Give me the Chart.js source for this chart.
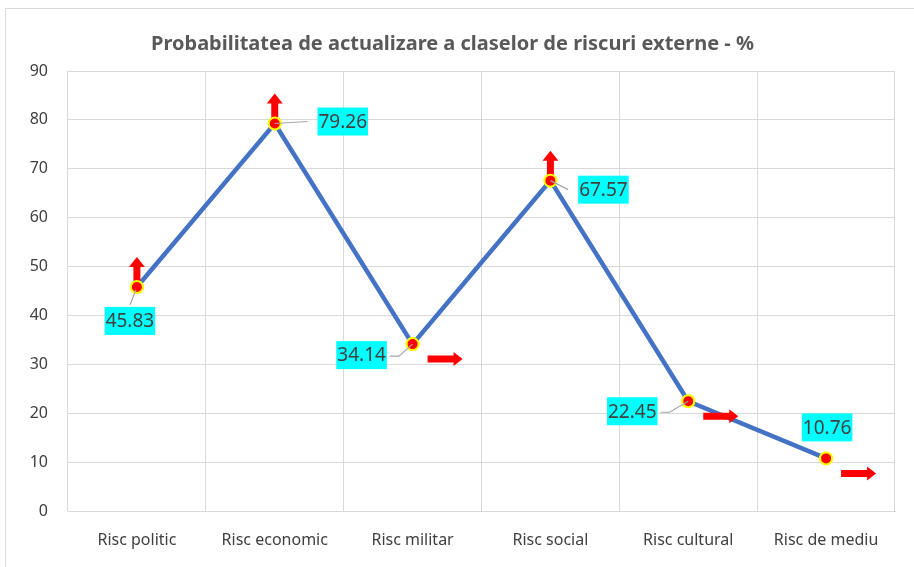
<!DOCTYPE html>
<html>
<head>
<meta charset="utf-8">
<script src="https://cdn.jsdelivr.net/npm/chart.js@4"></script>
<style>
  html, body { margin: 0; padding: 0; background: #fff; }
  #wrap { width: 914px; height: 567px; }
</style>
</head>
<body>
<div id="wrap"><canvas id="riskChart" width="914" height="567"></canvas></div>
<script>
// categories and values
const categories = ['Risc politic', 'Risc economic', 'Risc militar', 'Risc social', 'Risc cultural', 'Risc de mediu'];
const probability = [45.83, 79.26, 34.14, 67.57, 22.45, 10.76];
// arrow direction per point (up = rising, right = stable)
const trend = ['up', 'up', 'right', 'up', 'right', 'right'];
const yTicks = [0, 10, 20, 30, 40, 50, 60, 70, 80, 90];

// where each label box sits relative to its point (styling only)
const labelOffsets = [
  { dx: -7, dy: 34, leader: 'top' },
  { dx: 68, dy: -2, leader: 'left' },
  { dx: -51, dy: 11, leader: 'right' },
  { dx: 53, dy: 9, leader: 'left' },
  { dx: -56, dy: 10, leader: 'right' },
  { dx: 1, dy: -31, leader: 'none' }
];

const fontFam = '"Noto Sans", "Liberation Sans", sans-serif';

// draws a filled red arrow, up or right
function drawArrow(ctx, x, y, dir) {
  ctx.save();
  ctx.fillStyle = '#ff0000';
  ctx.beginPath();
  if (dir === 'up') {
    var base = y - 4, tip = y - 30, headH = 10, shaft = 3.5, head = 8;
    ctx.moveTo(x - shaft, base);
    ctx.lineTo(x - shaft, tip + headH);
    ctx.lineTo(x - head, tip + headH);
    ctx.lineTo(x, tip);
    ctx.lineTo(x + head, tip + headH);
    ctx.lineTo(x + shaft, tip + headH);
    ctx.lineTo(x + shaft, base);
  } else {
    var x0 = x + 15, x1 = x + 50, yy = y + 15, headL = 9, shaftR = 3.5, headR = 7;
    ctx.moveTo(x0, yy - shaftR);
    ctx.lineTo(x1 - headL, yy - shaftR);
    ctx.lineTo(x1 - headL, yy - headR);
    ctx.lineTo(x1, yy);
    ctx.lineTo(x1 - headL, yy + headR);
    ctx.lineTo(x1 - headL, yy + shaftR);
    ctx.lineTo(x0, yy + shaftR);
  }
  ctx.closePath();
  ctx.fill();
  ctx.restore();
}

const decorPlugin = {
  id: 'decor',
  beforeDraw(chart) {
    // outer chart frame
    var ctx = chart.ctx;
    ctx.save();
    ctx.strokeStyle = '#d9d9d9';
    ctx.lineWidth = 1;
    ctx.strokeRect(5.5, 8.5, 930, 600);
    ctx.restore();
  },
  afterDatasetsDraw(chart) {
    var ctx = chart.ctx;
    var meta = chart.getDatasetMeta(0);
    meta.data.forEach(function (pt, i) {
      drawArrow(ctx, pt.x, pt.y, trend[i]);
    });
    // points back on top of the arrows
    meta.data.forEach(function (pt) { pt.draw(ctx); });

    ctx.save();
    ctx.font = '19px ' + fontFam;
    ctx.textAlign = 'center';
    ctx.textBaseline = 'middle';
    meta.data.forEach(function (pt, i) {
      var txt = probability[i].toFixed(2);
      var off = labelOffsets[i];
      var cx = pt.x + off.dx, cy = pt.y + off.dy;
      var w = ctx.measureText(txt).width + 2, h = 28;
      var left = cx - w / 2, top = cy - h / 2;

      // leader line
      ctx.strokeStyle = '#a6a6a6';
      ctx.lineWidth = 1.2;
      ctx.beginPath();
      if (off.leader === 'top') {
        ctx.moveTo(pt.x - 1, pt.y + 3);
        ctx.lineTo(cx, top - 2);
      } else if (off.leader === 'left') {
        ctx.moveTo(pt.x, pt.y);
        ctx.lineTo(left - 10, cy);
      } else if (off.leader === 'right') {
        ctx.moveTo(left + w + 3, cy + 1);
        ctx.lineTo(left + w + 12, cy + 1);
        ctx.lineTo(pt.x, pt.y);
      }
      ctx.stroke();

      ctx.fillStyle = '#00ffff';
      ctx.fillRect(left, top, w, h);
      ctx.fillStyle = '#404040';
      ctx.fillText(txt, cx, cy + 1);
    });
    ctx.restore();
  }
};

var ctx = document.getElementById('riskChart').getContext('2d');
var riskChart = new Chart(ctx, {
  type: 'line',
  data: {
    labels: categories,
    datasets: [{
      label: 'Probabilitate',
      data: probability,
      borderColor: '#4472c4',
      borderWidth: 4.5,
      tension: 0,
      pointRadius: 6,
      pointBackgroundColor: '#ff0000',
      pointBorderColor: '#ffff00',
      pointBorderWidth: 2,
      fill: false
    }]
  },
  plugins: [decorPlugin],
  options: {
    responsive: false,
    animation: false,
    layout: { padding: { left: 10, right: 19, top: 10, bottom: 9 } },
    plugins: {
      legend: { display: false },
      tooltip: { enabled: false },
      title: {
        display: true,
        text: 'Probabilitatea de actualizare a claselor de riscuri externe - %',
        color: '#595959',
        font: { family: fontFam, size: 20, weight: 'bold' },
        padding: { top: 22, bottom: 15 }
      }
    },
    scales: {
      x: {
        offset: true,
        grid: { offset: true, color: '#d9d9d9', lineWidth: 1, drawTicks: false },
        border: { color: '#d9d9d9' },
        ticks: { color: '#404040', font: { family: fontFam, size: 16 }, padding: 20, maxRotation: 0 },
        afterFit: function (scale) { scale.height = 47; }
      },
      y: {
        min: 0,
        max: 90,
        afterBuildTicks: function (scale) {
          scale.ticks = yTicks.map(function (v) { return { value: v }; });
        },
        grid: { color: '#d9d9d9', lineWidth: 1, drawTicks: false },
        border: { display: false },
        ticks: { color: '#404040', font: { family: fontFam, size: 16 }, padding: 20 },
        afterFit: function (scale) { scale.width = 58; }
      }
    }
  }
});
</script>
</body>
</html>
